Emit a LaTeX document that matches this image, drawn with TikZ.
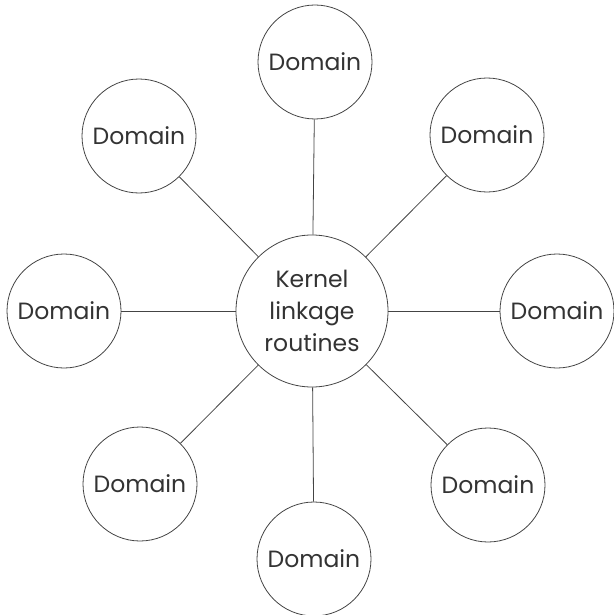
\documentclass[tikz,border=0pt]{standalone}
\usepackage{fontspec}
\setmainfont{Poppins}
\definecolor{ink}{HTML}{333333}
\definecolor{edge}{HTML}{444444}
\begin{document}
\begin{tikzpicture}[x=1pt,y=-1pt,
  dombox/.style={circle,draw=edge,line width=0.8pt,minimum size=114pt,inner sep=0pt,text=ink,font=\fontsize{23.5}{32}\selectfont},
  kernbox/.style={circle,draw=edge,line width=0.8pt,minimum size=152pt,inner sep=0pt,text=ink,align=center,font=\fontsize{23.5}{32}\selectfont},
  link/.style={draw=edge,line width=0.8pt}]
\useasboundingbox (0,0) rectangle (613,615);
\node[kernbox] (k) at (312,311) {Kernel\\linkage\\routines};
\node[dombox] (n) at (315,62) {Domain};
\node[dombox] (s) at (314,559) {Domain};
\node[dombox] (w) at (64,311) {Domain};
\node[dombox] (e) at (557,311) {Domain};
\node[dombox] (nw) at (139,136) {Domain};
\node[dombox] (ne) at (487,135) {Domain};
\node[dombox] (sw) at (140,484) {Domain};
\node[dombox] (se) at (488,485) {Domain};
\foreach \d in {n,s,w,e,nw,ne,sw,se} \draw[link] (k) -- (\d);
\end{tikzpicture}
\end{document}
